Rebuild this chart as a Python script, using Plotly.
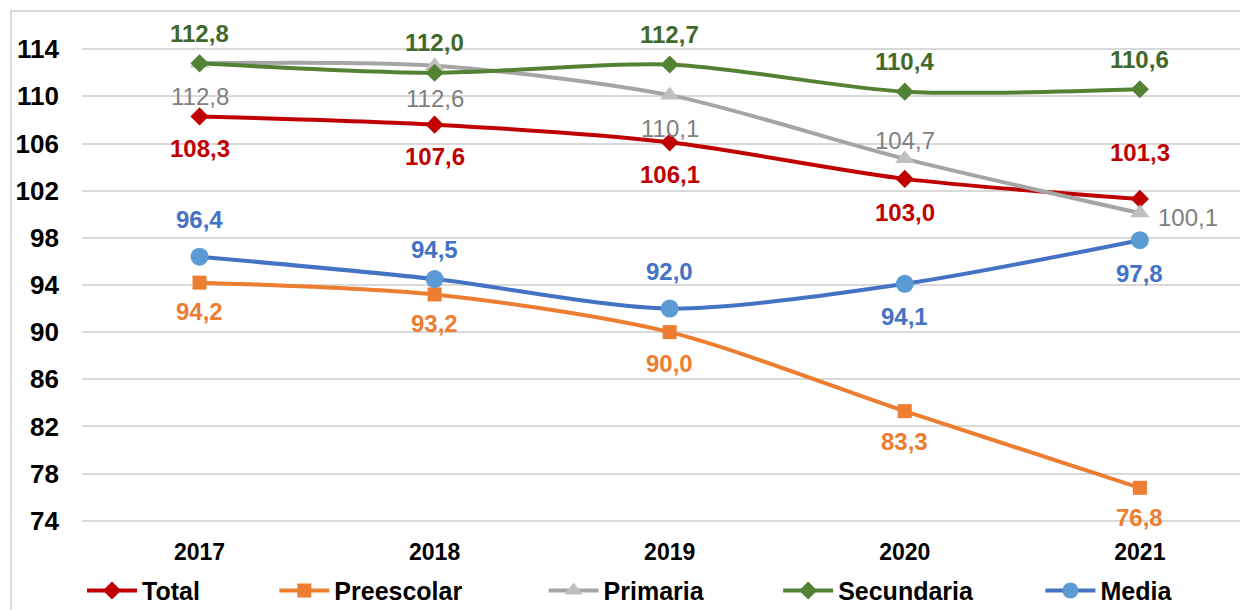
import plotly.graph_objects as go

# Datos (índice por nivel educativo)
anios = ["2017", "2018", "2019", "2020", "2021"]
total = [108.3, 107.6, 106.1, 103.0, 101.3]
preescolar = [94.2, 93.2, 90.0, 83.3, 76.8]
primaria = [112.8, 112.6, 110.1, 104.7, 100.1]
secundaria = [112.8, 112.0, 112.7, 110.4, 110.6]
media = [96.4, 94.5, 92.0, 94.1, 97.8]
ticks_y = [74, 78, 82, 86, 90, 94, 98, 102, 106, 110, 114]

FUENTE = "Arial, Liberation Sans, sans-serif"

# Estilo de cada serie: (nombre, valores, color línea, marcador, tamaño, color marcador, color etiqueta, negrita, posiciones etiqueta)
series = [
    ("Total", total, "#C00000", "diamond", 14, "#C00000", "#C00000", True,
     [32, 32, 32, 34, -46]),
    ("Preescolar", preescolar, "#ED7D31", "square", 14, "#ED7D31", "#ED7D31", True,
     [29, 29, 31, 30, 30]),
    ("Primaria", primaria, "#A5A5A5", "triangle-up", 17, "#BFBFBF", "#7F7F7F", False,
     [33, 33, 33, -18, "r"]),
    ("Secundaria", secundaria, "#548235", "diamond", 14, "#548235", "#41692A", True,
     [-30, -30, -30, -30, -30]),
    ("Media", media, "#4472C4", "circle", 18, "#5B9BD5", "#4472C4", True,
     [-37, -30, -37, 33, 33]),
]

# espacio extra tras cada entrada de la leyenda (como en Excel)
relleno = {"Total": 10, "Preescolar": 11, "Primaria": 10, "Secundaria": 9, "Media": 0}

fig = go.Figure()
anotaciones = []
for nombre, valores, c_linea, simbolo, tam, c_marca, c_texto, negrita, pos in series:
    fig.add_trace(go.Scatter(
        x=anios, y=valores, name=nombre + "\u00a0" * relleno[nombre],
        mode="lines+markers",
        line=dict(color=c_linea, width=4, shape="spline", smoothing=0.8),
        marker=dict(symbol=simbolo, size=tam, color=c_marca, line=dict(width=0)),
        cliponaxis=False,
    ))
    # en eje de categorías la anotación va por índice
    for i, (v, p) in enumerate(zip(valores, pos)):
        txt = f"{v:.1f}".replace(".", ",")
        if negrita:
            txt = f"<b>{txt}</b>"
        a = dict(x=i, y=v, xref="x", yref="y", text=txt, showarrow=False,
                 font=dict(family=FUENTE, size=24, color=c_texto))
        if p == "r":
            a.update(xanchor="left", xshift=16, yshift=-4)
        else:
            a.update(yshift=-p)
        anotaciones.append(a)

# la página deja 8px de margen al cuerpo: figura algo más pequeña
fig.update_layout(
    width=1240, height=602,
    margin=dict(l=74, r=0, t=40, b=88, autoexpand=False),
    paper_bgcolor="white", plot_bgcolor="white",
    font=dict(family=FUENTE, color="black"),
    annotations=anotaciones,
    showlegend=True,
    legend=dict(
        orientation="h", x=0.0, y=-0.145, xanchor="left", yanchor="middle",
        font=dict(size=25, family=FUENTE, color="black", weight="bold"),
        bgcolor="rgba(0,0,0,0)", itemwidth=50,
    ),
    xaxis=dict(
        type="category", range=[-0.5, 4.46],
        showgrid=False, showline=False, zeroline=False, ticks="",
        tickfont=dict(size=23, family=FUENTE, color="black", weight="bold"),
        ticklabelstandoff=14,
    ),
    yaxis=dict(
        range=[73.9, 114.1], tickvals=ticks_y,
        showgrid=True, gridcolor="#D9D9D9", gridwidth=1.5,
        showline=False, zeroline=False, ticks="",
        tickfont=dict(size=26, family=FUENTE, color="black", weight="bold"),
        ticklabelstandoff=22,
    ),
    shapes=[dict(type="rect", xref="paper", yref="paper",
                 x0=-0.061, x1=1.02, y0=-0.3, y1=1.078,
                 line=dict(color="#D9D9D9", width=2), layer="below")],
)

fig.write_html("out.html")
